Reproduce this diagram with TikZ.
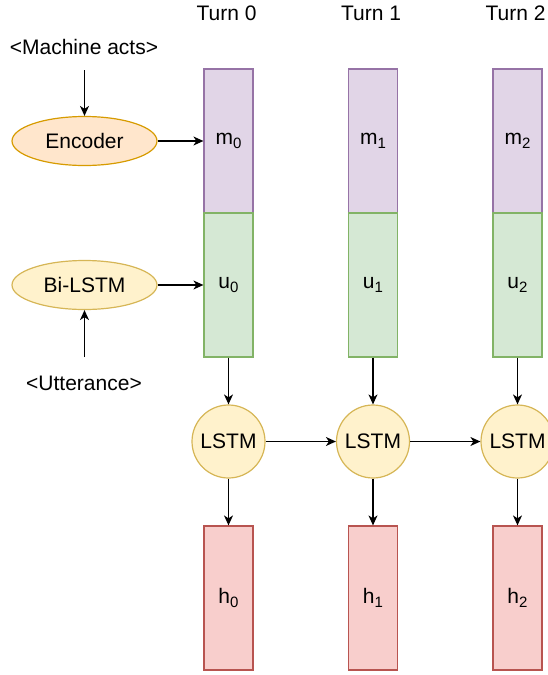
\documentclass[tikz,border=0pt]{standalone}
\usepackage{fontspec}
\setmainfont{Liberation Sans}
\usepackage{tikz}
\usetikzlibrary{shapes.geometric, arrows.meta, positioning}
\definecolor{msgfill}{HTML}{E1D5E7}
\definecolor{msgline}{HTML}{9673A6}
\definecolor{uttfill}{HTML}{D5E8D4}
\definecolor{uttline}{HTML}{82B366}
\definecolor{hidfill}{HTML}{F8CECC}
\definecolor{hidline}{HTML}{B85450}
\definecolor{cellfill}{HTML}{FFF2CC}
\definecolor{cellline}{HTML}{D6B656}
\definecolor{encfill}{HTML}{FFE6CC}
\definecolor{encline}{HTML}{D79B00}
\newcommand{\idx}[1]{\raisebox{-0.35ex}{\fontsize{15}{18}\selectfont#1}}

\begin{document}
\begin{tikzpicture}[
    x=1pt, y=-1pt,
    every node/.style={font=\fontsize{21}{25}\selectfont, inner sep=0pt},
    vecbox/.style={rectangle, line width=1.2pt, minimum width=49pt, minimum height=144pt},
    cell/.style={circle, draw=cellline, fill=cellfill, line width=1.2pt, minimum size=73pt},
    embed/.style={ellipse, line width=1.2pt, minimum width=145pt, minimum height=49pt},
    flow/.style={-{Stealth[length=10pt, width=9pt, inset=3pt]}, line width=1.2pt}
]
\useasboundingbox (0,0) rectangle (548,675);

% input side
\node (acts) at (84,47) {<Machine acts>};
\node[embed, draw=encline, fill=encfill] (enc) at (84.5,141) {Encoder};
\node[embed, draw=cellline, fill=cellfill] (bilstm) at (84.5,285) {Bi-LSTM};
\node (utt) at (84,383) {<Utterance>};
\coordinate (actsend) at (84.5,70);
\coordinate (uttend) at (84.5,357);

% one column per turn
\foreach \t/\x in {0/228.5, 1/373, 2/517.5} {
    \node (turn\t) at (\x-2,13) {Turn \t};
    \node[vecbox, draw=msgline, fill=msgfill] (m\t) at (\x,141) {m\idx{\t}};
    \node[vecbox, draw=uttline, fill=uttfill] (u\t) at (\x,285) {u\idx{\t}};
    \node[cell] (c\t) at (\x,441.5) {LSTM};
    \node[vecbox, draw=hidline, fill=hidfill] (h\t) at (\x,598) {h\idx{\t}};
    \draw[flow] (u\t) -- (c\t);
    \draw[flow] (c\t) -- (h\t);
}

% connections
\draw[flow] (actsend) -- (enc);
\draw[flow] (uttend) -- (bilstm);
\draw[flow] (enc) -- (m0);
\draw[flow] (bilstm) -- (u0);
\draw[flow] (c0) -- (c1);
\draw[flow] (c1) -- (c2);
\end{tikzpicture}
\end{document}
